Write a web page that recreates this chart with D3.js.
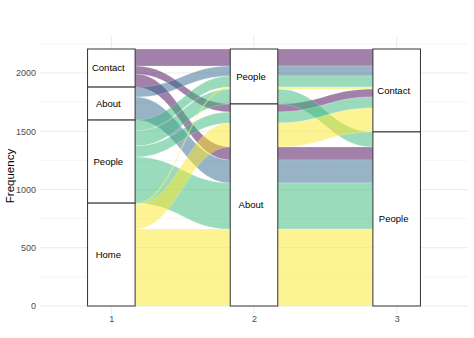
<!DOCTYPE html>
<html>
<head>
<meta charset="utf-8">
<script src="https://cdn.jsdelivr.net/npm/d3@7"></script>
<style>
  html, body { margin: 0; padding: 0; background: #fff; }
  svg { display: block; font-family: "Liberation Sans", Arial, sans-serif; }
</style>
</head>
<body>
<svg id="chart" width="474" height="338"></svg>
<script>
// Page sequences: the first three pages visited and how many sessions followed each path
const axisLabels = ["1", "2", "3"];
const strata1 = ["Contact", "About", "People", "Home"];
const strata2 = ["People", "About"];
const strata3 = ["Contact", "People"];

const page1 = ["Contact", "Contact", "Contact", "About", "About", "People", "People", "People", "People", "Home", "Home", "Home"];
const page2 = ["People", "About", "About", "People", "About", "People", "People", "About", "About", "People", "About", "About"];
const page3 = ["Contact", "Contact", "People", "Contact", "People", "Contact", "People", "Contact", "People", "Contact", "Contact", "People"];
const freq  = [146, 69, 112, 86, 197, 94, 129, 94, 396, 17, 206, 660];

const yTicks = [0, 500, 1000, 1500, 2000];
const yMinor = [250, 750, 1250, 1750, 2250];
const fillColors = ["#440154", "#31688E", "#35B779", "#FDE725"];

const svg = d3.select("#chart");
const panel = { left: 40, right: 468, top: 36, bottom: 314 };

const total = d3.sum(freq);
const x = d3.scaleLinear().domain([0.5, 3.5]).range([panel.left, panel.right]);
const y = d3.scaleLinear().domain([0, total]).range([306, 49]);
const fill = d3.scaleOrdinal().domain(strata1).range(fillColors);
const halfW = (x(2) - x(1)) / 6; // strata are 1/3 of an axis step wide

// grid
const grid = svg.append("g");
grid.selectAll("line.minor").data(yMinor).join("line")
  .attr("x1", panel.left).attr("x2", panel.right)
  .attr("y1", d => y(d)).attr("y2", d => y(d))
  .attr("stroke", "#EBEBEB").attr("stroke-width", 0.5);
grid.selectAll("line.major").data(yTicks).join("line")
  .attr("x1", panel.left).attr("x2", panel.right)
  .attr("y1", d => y(d)).attr("y2", d => y(d))
  .attr("stroke", "#EBEBEB").attr("stroke-width", 1);
grid.selectAll("line.vmajor").data([1, 2, 3]).join("line")
  .attr("x1", d => x(d)).attr("x2", d => x(d))
  .attr("y1", panel.top).attr("y2", panel.bottom)
  .attr("stroke", "#EBEBEB").attr("stroke-width", 1);

// alluvia records
const rows = freq.map((f, i) => ({ id: i, pages: [page1[i], page2[i], page3[i]], n: f }));
const strataByAxis = [strata1, strata2, strata3];
// lode ordering within a stratum: which other axes break ties, in priority
const guidance = [[1, 2], [2, 0], [1, 0]];

const lodes = rows.map(() => [null, null, null]);
const strataBoxes = [];
strataByAxis.forEach((strata, a) => {
  let top = total;
  strata.forEach(s => {
    const members = rows.filter(r => r.pages[a] === s);
    members.sort((p, q) => {
      for (const b of guidance[a]) {
        const d = strataByAxis[b].indexOf(p.pages[b]) - strataByAxis[b].indexOf(q.pages[b]);
        if (d !== 0) return d;
      }
      return strata1.indexOf(p.pages[0]) - strata1.indexOf(q.pages[0]);
    });
    const sTop = top;
    members.forEach(r => {
      lodes[r.id][a] = { top: top, bottom: top - r.n };
      top -= r.n;
    });
    strataBoxes.push({ axis: a + 1, label: s, top: sTop, bottom: top });
  });
});

function ribbonPath(id) {
  const L = lodes[id];
  const k = 0.45;
  let p = "";
  // upper edge, left to right
  L.forEach((l, a) => {
    const xc = x(a + 1);
    if (a === 0) p += `M${xc - halfW},${y(l.top)}`;
    else {
      const x0 = x(a) + halfW, x1 = xc - halfW, d = x1 - x0;
      p += `C${x0 + k * d},${y(L[a - 1].top)} ${x1 - k * d},${y(l.top)} ${x1},${y(l.top)}`;
    }
    p += `L${xc + halfW},${y(l.top)}`;
  });
  // lower edge, right to left
  for (let a = 2; a >= 0; a--) {
    const l = L[a], xc = x(a + 1);
    if (a === 2) p += `L${xc + halfW},${y(l.bottom)}`;
    else {
      const x0 = xc + halfW, x1 = x(a + 2) - halfW, d = x1 - x0;
      p += `C${x1 - k * d},${y(L[a + 1].bottom)} ${x0 + k * d},${y(l.bottom)} ${x0},${y(l.bottom)}`;
    }
    p += `L${xc - halfW},${y(l.bottom)}`;
  }
  return p + "Z";
}

svg.append("g").selectAll("path").data(rows).join("path")
  .attr("d", r => ribbonPath(r.id))
  .attr("fill", r => fill(r.pages[0]))
  .attr("fill-opacity", 0.5)
  .attr("stroke", "#fff")
  .attr("stroke-opacity", 0.5)
  .attr("stroke-width", 0.4);

// strata
const sg = svg.append("g");
sg.selectAll("rect").data(strataBoxes).join("rect")
  .attr("x", d => x(d.axis) - halfW)
  .attr("width", 2 * halfW)
  .attr("y", d => y(d.top))
  .attr("height", d => y(d.bottom) - y(d.top))
  .attr("fill", "#fff")
  .attr("stroke", "#333")
  .attr("stroke-width", 1);
sg.selectAll("text").data(strataBoxes).join("text")
  .attr("x", d => x(d.axis) - 3)
  .attr("y", d => (y(d.top) + y(d.bottom)) / 2)
  .attr("dy", "0.35em")
  .attr("text-anchor", "middle")
  .attr("font-size", 9.5)
  .attr("fill", "#000")
  .text(d => d.label);

// axes
const yAxis = d3.axisLeft(y).tickValues(yTicks).tickFormat(d3.format("d")).tickSize(0).tickPadding(4);
svg.append("g").attr("transform", `translate(${panel.left},0)`).call(yAxis)
  .call(g => g.select(".domain").remove())
  .call(g => g.selectAll("text").attr("fill", "#4D4D4D").attr("font-size", 9)
    .attr("font-family", "Liberation Sans, Arial, sans-serif"));

const xAxis = d3.axisBottom(x).tickValues([1, 2, 3]).tickFormat((d, i) => axisLabels[i]).tickSize(0).tickPadding(2);
svg.append("g").attr("transform", `translate(0,${panel.bottom})`).call(xAxis)
  .call(g => g.select(".domain").remove())
  .call(g => g.selectAll("text").attr("fill", "#4D4D4D").attr("font-size", 9)
    .attr("font-family", "Liberation Sans, Arial, sans-serif"));

svg.append("text")
  .attr("transform", "translate(14,176) rotate(-90)")
  .attr("text-anchor", "middle")
  .attr("font-size", 11.5)
  .attr("fill", "#000")
  .text("Frequency");
</script>
</body>
</html>
